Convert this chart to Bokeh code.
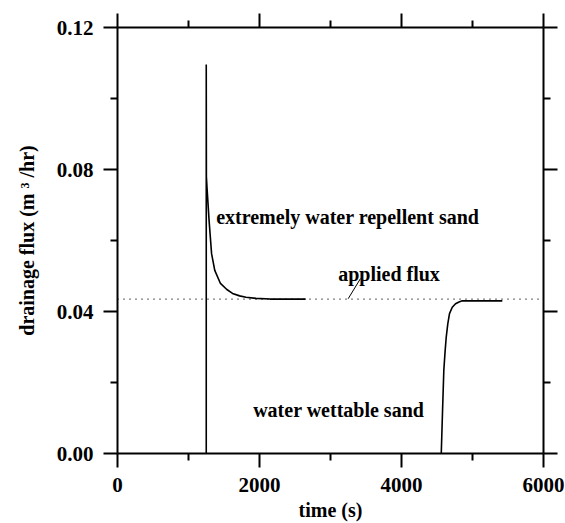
from bokeh.plotting import figure
from bokeh.models import FixedTicker, LinearAxis, Range1d, PrintfTickFormatter, Label, Segment, ColumnDataSource
from bokeh.embed import file_html
from bokeh.resources import INLINE

# drainage flux vs time for two sands
repellent_t = [1250, 1250, 1252, 1262, 1275, 1290, 1325, 1370, 1450, 1540, 1620, 1720, 1810, 1950, 2150, 2650]
repellent_q = [0.0, 0.1096, 0.0780, 0.0745, 0.0704, 0.0656, 0.0563, 0.0516, 0.0479, 0.0462, 0.0451, 0.0444,
               0.0440, 0.0437, 0.0435, 0.0435]

wettable_t = [4560, 4578, 4596, 4613, 4630, 4652, 4676, 4715, 4761, 4810, 4855, 5420]
wettable_q = [0.0, 0.0120, 0.0234, 0.0285, 0.0328, 0.0365, 0.0394, 0.0412, 0.0422, 0.0427, 0.0430, 0.0430]

applied_t = [0, 5950]
applied_q = [0.0435, 0.0435]

x_major = [0, 2000, 4000, 6000]
x_minor = [1000, 3000, 5000]
y_major = [0.0, 0.04, 0.08, 0.12]
y_minor = [0.02, 0.06, 0.10]

FONT = "Liberation Serif"

p = figure(width=565, height=523, output_backend="svg", toolbar_location=None,
           x_range=Range1d(0, 6000), y_range=Range1d(0, 0.12),
           min_border_left=117, min_border_right=22, min_border_top=27, min_border_bottom=70,
           x_axis_label="time (s)", y_axis_label="drainage flux (m ³ /hr)")
p.outline_line_color = None
p.xgrid.visible = False
p.ygrid.visible = False
p.background_fill_color = "white"
p.border_fill_color = "white"

bottom = p.below[0]
left = p.left[0]
top = LinearAxis()
right = LinearAxis()
p.add_layout(top, "above")
p.add_layout(right, "right")

for ax in [bottom, top]:
    ax.ticker = FixedTicker(ticks=x_major, minor_ticks=x_minor)
for ax in [left, right]:
    ax.ticker = FixedTicker(ticks=y_major, minor_ticks=y_minor)
left.formatter = PrintfTickFormatter(format="%.2f")

for ax in [bottom, left, top, right]:
    ax.axis_line_width = 2
    ax.axis_line_color = "black"
    ax.major_tick_line_width = 2
    ax.minor_tick_line_width = 2
    ax.major_tick_out = 14
    ax.major_tick_in = 0
    ax.minor_tick_out = 7
    ax.minor_tick_in = 0
    ax.major_label_text_font = FONT
    ax.major_label_text_font_style = "bold"
    ax.major_label_text_font_size = "21px"
    ax.major_label_text_color = "black"
    ax.axis_label_text_font = FONT
    ax.axis_label_text_font_style = "bold"
    ax.axis_label_text_font_size = "20px"
    ax.axis_label_text_color = "black"
    ax.major_label_standoff = 10

# frame-side axes carry ticks only
top.major_label_overrides = {t: "" for t in x_major}
right.major_label_overrides = {t: "" for t in y_major}
for ax in [top, right]:
    ax.major_label_standoff = 0

left.axis_label_standoff = 16
bottom.axis_label_standoff = 4

# applied flux reference
p.line(applied_t, applied_q, line_color="black", line_width=1.3, line_dash="1 5")

p.line(repellent_t, repellent_q, line_color="black", line_width=1.6)
p.line(wettable_t, wettable_q, line_color="black", line_width=1.6)

# leader from the "applied flux" note to the dotted line
leader = ColumnDataSource(dict(x0=[3423], y0=[0.0493], x1=[3249], y1=[0.0436]))
p.add_glyph(leader, Segment(x0="x0", y0="y0", x1="x1", y1="y1", line_color="black", line_width=1))

notes = [
    ("extremely water repellent sand", 1390, 0.0665),
    ("applied flux", 3108, 0.0506),
    ("water wettable sand", 1911, 0.0123),
]
for txt, tx, ty in notes:
    p.add_layout(Label(x=tx, y=ty, text=txt, text_font=FONT, text_font_style="bold",
                       text_font_size="20px", text_color="black", text_baseline="alphabetic"))

open("out.html", "w").write(file_html(p, INLINE))
